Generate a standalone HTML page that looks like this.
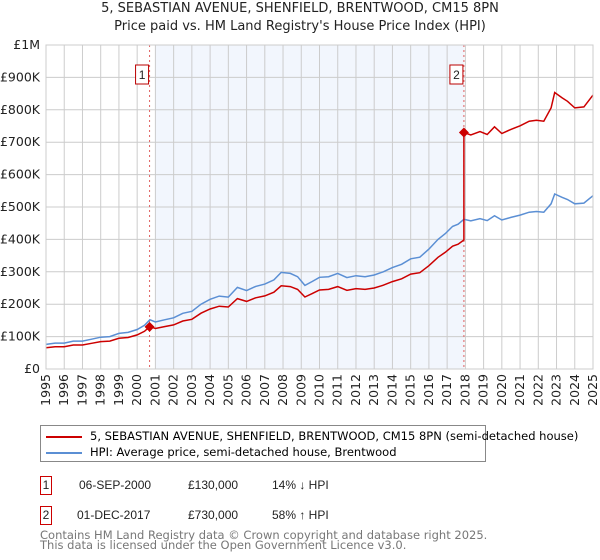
<!DOCTYPE html>
<html><head><meta charset="utf-8"><style>
body{margin:0;background:#fff;font-family:"Liberation Sans","DejaVu Sans",sans-serif;}
#wrap{position:relative;width:600px;height:560px;overflow:hidden}
.t{position:absolute;font-size:12px;color:#222;white-space:nowrap}
</style></head><body><div id="wrap">
<div class="t" style="left:0;width:600px;text-align:center;top:1px;font-size:13px;font-family:'DejaVu Sans',sans-serif">5, SEBASTIAN AVENUE, SHENFIELD, BRENTWOOD, CM15 8PN</div>
<div class="t" style="left:0;width:600px;text-align:center;top:19px;font-size:13px;font-family:'DejaVu Sans',sans-serif">Price paid vs. HM Land Registry's House Price Index (HPI)</div>
<svg id="plot" width="600" height="420" style="position:absolute;left:0;top:0"></svg>
<div style="position:absolute;left:40px;top:425px;width:444px;height:35px;border:1px solid #888;font-family:'DejaVu Sans',sans-serif;font-size:11.5px">
 <div style="position:absolute;left:5px;top:3px;white-space:nowrap"><span style="display:inline-block;width:36px;height:2px;background:#cc0000;vertical-align:middle;margin-right:8px"></span>5, SEBASTIAN AVENUE, SHENFIELD, BRENTWOOD, CM15 8PN (semi-detached house)</div>
 <div style="position:absolute;left:5px;top:19px;white-space:nowrap"><span style="display:inline-block;width:36px;height:2px;background:#5b8fd4;vertical-align:middle;margin-right:8px"></span>HPI: Average price, semi-detached house, Brentwood</div>
</div>
<div>
<div class="t" style="left:40px;top:476px;width:10px;height:17px;border:1px solid #c00;text-align:center;line-height:17px">1</div>
<div class="t" style="left:79px;top:478px">06-SEP-2000</div>
<div class="t" style="left:188px;top:478px">£130,000</div>
<div class="t" style="left:272px;top:478px">14% ↓ HPI</div>
</div>
<div>
<div class="t" style="left:40px;top:506px;width:10px;height:17px;border:1px solid #c00;text-align:center;line-height:17px">2</div>
<div class="t" style="left:77px;top:508px">01-DEC-2017</div>
<div class="t" style="left:188px;top:508px">£730,000</div>
<div class="t" style="left:272px;top:508px">58% ↑ HPI</div>
</div>
<div class="t" style="left:40px;top:530px;color:#777;line-height:10px;font-family:'DejaVu Sans',sans-serif;font-size:11.5px">Contains HM Land Registry data © Crown copyright and database right 2025.<br>This data is licensed under the Open Government Licence v3.0.</div>
</div>
<script>
const yTicks=[0,100,200,300,400,500,600,700,800,900,1000];
const yTickLabels=["£0","£100K","£200K","£300K","£400K","£500K","£600K","£700K","£800K","£900K","£1M"];
const xYears=[1995,1996,1997,1998,1999,2000,2001,2002,2003,2004,2005,2006,2007,2008,2009,2010,2011,2012,2013,2014,2015,2016,2017,2018,2019,2020,2021,2022,2023,2024,2025];
const hpiT=[1995,1995.5,1996,1996.5,1997,1997.5,1998,1998.5,1999,1999.5,2000,2000.4,2000.7,2001,2001.5,2002,2002.5,2003,2003.5,2004,2004.5,2005,2005.5,2006,2006.5,2007,2007.5,2007.9,2008.4,2008.8,2009.2,2009.6,2010,2010.5,2011,2011.5,2012,2012.5,2013,2013.5,2014,2014.5,2015,2015.5,2016,2016.5,2016.9,2017.3,2017.6,2017.92,2018.3,2018.8,2019.2,2019.6,2020,2020.5,2021,2021.5,2021.9,2022.3,2022.7,2022.9,2023.3,2023.6,2024,2024.5,2025];
const hpiV=[76,80,80,86,86,92,98,100,110,113,122,135,152,145,152,158,172,178,200,215,225,222,252,242,255,262,275,298,295,285,258,270,283,285,295,282,288,285,290,300,313,323,340,345,370,400,418,440,447,462,457,464,458,473,460,468,475,484,486,484,510,540,530,523,510,512,535];
const saleT=[2000.68,2017.92];
const saleV=[130,730];
const sv=document.getElementById('plot');const NS='http://www.w3.org/2000/svg';
const X0=46,X1=593,Y0=369,Y1=45;
const xs=t=>X0+(t-1995)/(2025-1995)*(X1-X0);
const ys=v=>Y0-v/1000*(Y0-Y1);
function mk(tag,at){const e=document.createElementNS(NS,tag);for(const k in at)e.setAttribute(k,at[k]);sv.appendChild(e);return e;}
let r=mk('rect',{x:xs(2001),y:Y1,width:xs(saleT[1])-xs(2001),height:Y0-Y1,fill:'#f2f6fd'});


yTicks.forEach((v,i)=>{let l=mk('line',{x1:X0,x2:X1,y1:ys(v),y2:ys(v),stroke:'#cccccc'});


let t=mk('text',{x:40,y:ys(v)+4,'text-anchor':'end','font-size':12.5,fill:'#222','font-family':'DejaVu Sans,sans-serif'});t.textContent=yTickLabels[i];

});
xYears.forEach(yr=>{let l=mk('line',{x1:xs(yr),x2:xs(yr),y1:Y1,y2:Y0,stroke:'#cccccc'});


let t=mk('text',{x:0,y:0,'text-anchor':'end','font-size':12.5,fill:'#222','font-family':'DejaVu Sans,sans-serif',transform:`translate(${xs(yr)+4},${Y0+5}) rotate(-90)`});t.textContent=yr;

});
saleT.forEach((s,i)=>{let l=mk('line',{x1:xs(s),x2:xs(s),y1:Y1,y2:Y0,stroke:'#e06060','stroke-dasharray':'2,3'});


let b=mk('rect',{x:xs(s)-14,y:65,width:13,height:19,fill:'#fff',stroke:'#b00'});


let t=mk('text',{x:xs(s)-7.5,y:79,'text-anchor':'middle','font-size':12,fill:'#222'});t.textContent=i+1;

});
function interp(t){for(let i=1;i<hpiT.length;i++)if(t<=hpiT[i]){const f=(t-hpiT[i-1])/(hpiT[i]-hpiT[i-1]);return hpiV[i-1]+f*(hpiV[i]-hpiV[i-1]);}return hpiV[hpiV.length-1];}
let pb='',pr='';
hpiT.forEach((t,i)=>{pb+=(i?'L':'M')+xs(t).toFixed(1)+','+ys(hpiV[i]).toFixed(1);
let f=t<saleT[1]?saleV[0]/interp(saleT[0]):saleV[1]/interp(saleT[1]);
if(t>=saleT[1]&&hpiT[i-1]<saleT[1]){pr+='L'+xs(saleT[1]).toFixed(1)+','+ys(interp(saleT[1])*saleV[0]/interp(saleT[0])).toFixed(1);}
pr+=(i?'L':'M')+xs(t).toFixed(1)+','+ys(hpiV[i]*f).toFixed(1);});
let hp=mk('path',{d:pb,fill:'none',stroke:'#5b8fd4','stroke-width':1.5});


let rp=mk('path',{d:pr,fill:'none',stroke:'#cc0000','stroke-width':1.5});


saleT.forEach((s,i)=>{const cx=xs(s),cy=ys(saleV[i]);let d=mk('path',{d:`M${cx},${cy-5}L${cx+5},${cy}L${cx},${cy+5}L${cx-5},${cy}Z`,fill:'#cc0000'});

});
let fr=mk('rect',{x:X0,y:Y1,width:X1-X0,height:Y0-Y1,fill:'none',stroke:'#ccc'});


</script></body></html>
